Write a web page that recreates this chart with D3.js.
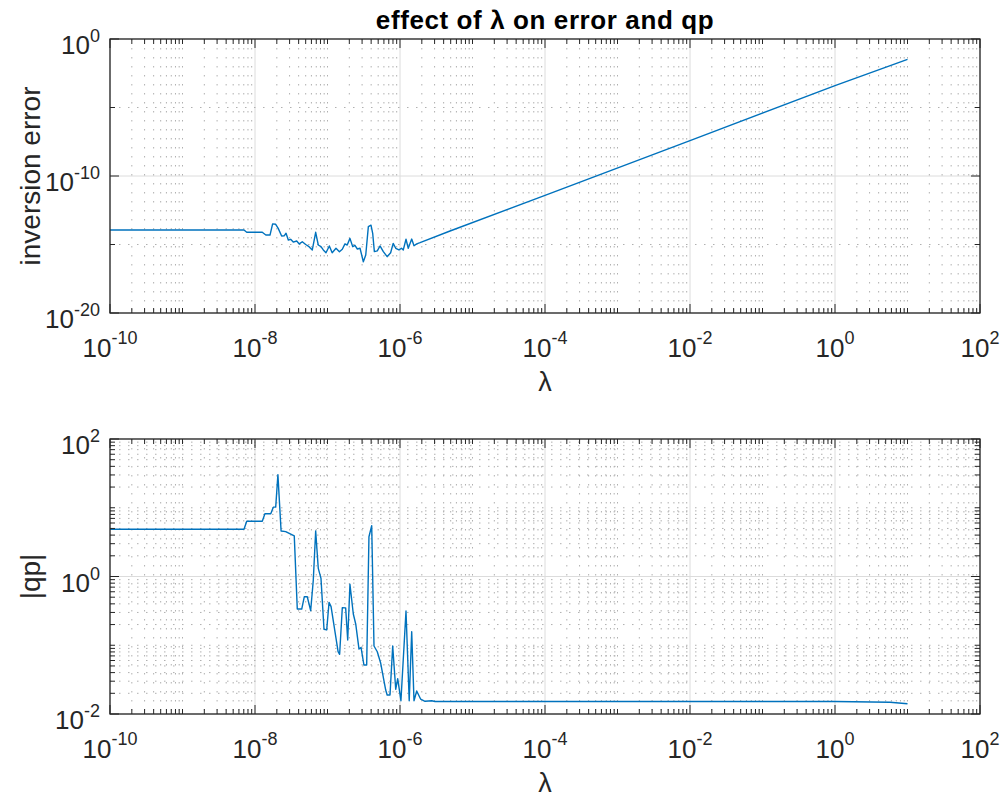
<!DOCTYPE html>
<html>
<head>
<meta charset="utf-8">
<script src="https://cdn.jsdelivr.net/npm/d3@7"></script>
<style>
  body { margin: 0; background: #fff; }
  svg { font-family: "Liberation Sans", Arial, Helvetica, sans-serif; }
</style>
</head>
<body>
<svg id="chart" width="1005" height="798"></svg>
<script>
// values
const lambdaErr = [1e-10, 7.05e-9, 7.69e-9, 1.26e-8, 1.41e-8, 1.61e-8, 1.75e-8, 1.93e-8, 2.09e-8, 2.33e-8,
  2.54e-8, 2.68e-8, 2.88e-8, 3.10e-8, 3.37e-8, 3.76e-8, 4.08e-8, 4.49e-8, 5.00e-8, 5.56e-8,
  6.17e-8, 6.87e-8, 7.46e-8, 8.13e-8, 8.75e-8, 9.53e-8, 1.06e-7, 1.16e-7, 1.31e-7, 1.46e-7,
  1.60e-7, 1.74e-7, 1.87e-7, 2.04e-7, 2.23e-7, 2.39e-7, 2.58e-7, 2.81e-7, 3.12e-7, 3.37e-7,
  3.66e-7, 3.98e-7, 4.20e-7, 4.43e-7, 4.86e-7, 5.30e-7, 5.89e-7, 6.65e-7, 7.43e-7, 8.05e-7,
  8.73e-7, 9.68e-7, 1.05e-6, 1.11e-6, 1.21e-6, 1.30e-6, 1.45e-6, 1.56e-6, 1.70e-6, 1.89e-6,
  4.90e-6, 1e-4, 1e-2, 1e0, 1e1]
const errValues = [1.15e-14, 1.15e-14, 7.8e-15, 7.8e-15, 4.9e-15, 4.9e-15, 3.2e-14, 3.0e-14, 1.5e-14, 4.2e-15,
  4.4e-15, 6.6e-15, 2.1e-15, 2.4e-15, 1.5e-15, 1.8e-15, 1.1e-15, 1.6e-15, 1.0e-15, 6.9e-16,
  4.0e-16, 7.8e-15, 9.2e-16, 6.9e-16, 4.0e-16, 2.5e-16, 7.8e-16, 2.5e-16, 5.3e-16, 3.0e-16,
  4.5e-16, 1.1e-15, 9.2e-16, 2.8e-15, 6.9e-16, 8.7e-16, 4.7e-16, 5.3e-16, 5.5e-17, 1.7e-16,
  2.0e-14, 2.6e-14, 6.6e-15, 3.0e-16, 3.4e-16, 7.8e-16, 3.0e-16, 1.3e-16, 2.5e-16, 1.2e-15,
  5.3e-16, 4.0e-16, 5.3e-16, 4.0e-16, 2.4e-15, 5.3e-16, 2.5e-15, 8.1e-16, 1.1e-15, 1.35e-15,
  9.7e-15, 3.9e-12, 3.8e-8, 3.9e-4, 3.3e-2]

const lambdaQp = [1e-10, 7.05e-9, 7.69e-9, 1.26e-8, 1.37e-8, 1.65e-8, 1.79e-8, 1.93e-8, 2.07e-8, 2.29e-8,
  2.65e-8, 3.48e-8, 3.83e-8, 4.41e-8, 4.79e-8, 5.26e-8, 5.86e-8, 6.37e-8, 6.87e-8, 7.46e-8,
  8.13e-8, 8.95e-8, 9.75e-8, 1.05e-7, 1.12e-7, 1.40e-7, 1.47e-7, 1.60e-7, 1.78e-7, 1.90e-7,
  2.04e-7, 2.27e-7, 2.45e-7, 2.72e-7, 2.90e-7, 3.18e-7, 3.47e-7, 3.73e-7, 4.07e-7, 4.38e-7,
  4.86e-7, 5.42e-7, 6.35e-7, 6.65e-7, 7.28e-7, 7.93e-7, 8.73e-7, 9.29e-7, 1.03e-6, 1.21e-6,
  1.34e-6, 1.45e-6, 1.56e-6, 1.70e-6, 1.93e-6, 2.21e-6, 2.74e-6, 3.04e-6, 1e0, 5.74e0, 1e1]
const qpValues = [4.86, 4.86, 6.35, 6.35, 8.2, 8.2, 10.2, 10.2, 30.3, 4.6,
  4.5, 3.9, 0.336, 0.336, 0.508, 0.508, 0.318, 0.89, 4.6, 1.31,
  0.94, 0.171, 0.167, 0.42, 0.364, 0.0805, 0.0738, 0.352, 0.35, 0.119,
  0.771, 0.285, 0.204, 0.088, 0.093, 0.0516, 0.0516, 3.79, 5.48, 0.0975,
  0.0805, 0.0546, 0.0223, 0.0189, 0.0189, 0.0975, 0.0229, 0.0326, 0.0156, 0.315,
  0.0156, 0.157, 0.0156, 0.0216, 0.0164, 0.0153, 0.0156, 0.0152, 0.0152, 0.0148, 0.0141]

const xTicks = [1e-10, 1e-8, 1e-6, 1e-4, 1e-2, 1e0, 1e2]
const errTicks = [1e-20, 1e-10, 1e0]
const errMinorTicks = [1e-15, 1e-5]
const qpTicks = [1e-2, 1e0, 1e2]

const axisColor = '#262626'
const lineColor = '#0072bd'
const left = 110
const right = 980

// minor ticks between major ones: 2..9 of every decade, plus the odd decades
const logMinor = (lo, hi) => {
  const out = []
  for (let k = lo; k < hi; k++) {
    for (let m = 1; m < 10; m++) {
      if (m === 1 && Math.abs(k % 2) !== 1) continue
      out.push(m * Math.pow(10, k))
    }
  }
  return out
}

const powLabel = (sel, v, dy) => {
  const e = Math.round(Math.log10(v))
  sel.append('tspan').text('10')
  sel.append('tspan').attr('dy', dy).attr('font-size', 18).text(e)
}

drawPanel = (svg, opts) => {
  const { top, bottom, xs, ys, yDomain, yTicks, yMinor, yLabel } = opts

  const x = d3.scaleLog().domain([1e-10, 1e2]).range([left, right])
  const y = d3.scaleLog().domain(yDomain).range([bottom, top])
  const xMinor = logMinor(-10, 2)

  const g = svg.append('g')

  // major grid
  g.selectAll('.gx').data(xTicks).enter().append('line')
    .attr('x1', d => x(d)).attr('x2', d => x(d))
    .attr('y1', top).attr('y2', bottom)
    .style('stroke', '#dcdcdc').style('stroke-width', 1)
  g.selectAll('.gy').data(yTicks).enter().append('line')
    .attr('x1', left).attr('x2', right)
    .attr('y1', d => y(d)).attr('y2', d => y(d))
    .style('stroke', '#dcdcdc').style('stroke-width', 1)

  // minor grid, dotted
  g.selectAll('.mx').data(xMinor).enter().append('line')
    .attr('x1', d => x(d)).attr('x2', d => x(d))
    .attr('y1', top).attr('y2', bottom)
    .style('stroke', '#b0b0b0').style('stroke-width', 1)
    .style('stroke-dasharray', '1.5,7.5')
  g.selectAll('.my').data(yMinor).enter().append('line')
    .attr('x1', left).attr('x2', right)
    .attr('y1', d => y(d)).attr('y2', d => y(d))
    .style('stroke', '#b0b0b0').style('stroke-width', 1)
    .style('stroke-dasharray', '1.5,7.5')

  // data line
  const line = d3.line()
    .x(d => x(d[0]))
    .y(d => y(d[1]))
  g.append('path')
    .datum(d3.zip(xs, ys))
    .attr('d', line)
    .attr('fill', 'none')
    .attr('stroke', lineColor)
    .attr('stroke-width', 1.4)
    .attr('stroke-linejoin', 'round')

  // ticks on all four sides, pointing in
  const tick = (data, len) => {
    data.forEach(d => {
      const xv = x(d)
      g.append('line').attr('x1', xv).attr('x2', xv).attr('y1', bottom).attr('y2', bottom - len)
        .style('stroke', axisColor).style('stroke-width', 1)
      g.append('line').attr('x1', xv).attr('x2', xv).attr('y1', top).attr('y2', top + len)
        .style('stroke', axisColor).style('stroke-width', 1)
    })
  }
  const ytick = (data, len) => {
    data.forEach(d => {
      const yv = y(d)
      g.append('line').attr('x1', left).attr('x2', left + len).attr('y1', yv).attr('y2', yv)
        .style('stroke', axisColor).style('stroke-width', 1)
      g.append('line').attr('x1', right).attr('x2', right - len).attr('y1', yv).attr('y2', yv)
        .style('stroke', axisColor).style('stroke-width', 1)
    })
  }
  tick(xTicks, 9)
  tick(xMinor, 5)
  ytick(yTicks, 9)
  ytick(yMinor, 5)

  // box
  g.append('rect')
    .attr('x', left).attr('y', top)
    .attr('width', right - left).attr('height', bottom - top)
    .attr('fill', 'none')
    .style('stroke', axisColor).style('stroke-width', 1.3)

  // tick labels
  xTicks.forEach(d => {
    const t = g.append('text')
      .attr('x', x(d)).attr('y', bottom + 44)
      .attr('text-anchor', 'middle')
      .attr('font-size', 26).attr('fill', axisColor)
    powLabel(t, d, -13)
  })
  yTicks.forEach(d => {
    const t = g.append('text')
      .attr('x', 100).attr('y', y(d) + 15)
      .attr('text-anchor', 'end')
      .attr('font-size', 26).attr('fill', axisColor)
    powLabel(t, d, -12)
  })

  g.append('text')
    .attr('x', (left + right) / 2).attr('y', bottom + 78)
    .attr('text-anchor', 'middle')
    .attr('font-size', 27).attr('fill', axisColor)
    .text('λ')

  g.append('text')
    .attr('transform', 'translate(' + 40 + ',' + ((top + bottom) / 2) + ') rotate(-90)')
    .attr('text-anchor', 'middle')
    .attr('font-size', 28).attr('fill', axisColor)
    .text(yLabel)
}

const svg = d3.select('#chart')

drawPanel(svg, {
  top: 39, bottom: 313,
  xs: lambdaErr, ys: errValues,
  yDomain: [1e-20, 1e0], yTicks: errTicks, yMinor: errMinorTicks,
  yLabel: 'inversion error'
})

drawPanel(svg, {
  top: 439, bottom: 714,
  xs: lambdaQp, ys: qpValues,
  yDomain: [1e-2, 1e2], yTicks: qpTicks, yMinor: logMinor(-2, 2),
  yLabel: '|qp|'
})

svg.append('text')
  .attr('x', (left + right) / 2).attr('y', 29)
  .attr('text-anchor', 'middle')
  .attr('font-size', 26).attr('font-weight', 'bold').attr('fill', '#000')
  .attr('letter-spacing', 0.6)
  .text('effect of λ on error and qp')
</script>
</body>
</html>
